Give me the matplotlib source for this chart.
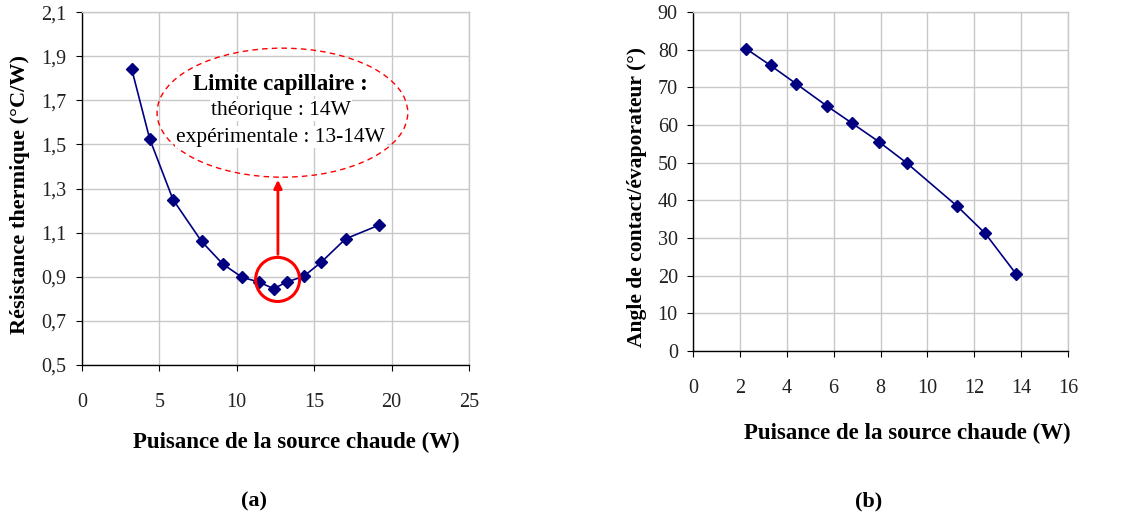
import matplotlib.pyplot as plt
from matplotlib.patches import Ellipse
from matplotlib.ticker import FuncFormatter

# (a) thermal resistance vs heat source power
power_a = [3.21, 4.37, 5.88, 7.73, 9.11, 10.36, 11.41, 12.38, 13.22, 14.32, 15.44, 17.03, 19.19]
resistance = [1.842, 1.526, 1.250, 1.060, 0.957, 0.897, 0.877, 0.846, 0.876, 0.902, 0.965, 1.072, 1.134]

# (b) contact angle vs heat source power
power_b = [2.25, 3.31, 4.41, 5.70, 6.78, 7.92, 9.12, 11.28, 12.47, 13.78]
angle = [80.3, 75.8, 70.9, 65.1, 60.5, 55.6, 49.9, 38.4, 31.2, 20.5]

xticks_a = [0, 5, 10, 15, 20, 25]
yticks_a = [0.5, 0.7, 0.9, 1.1, 1.3, 1.5, 1.7, 1.9, 2.1]
xticks_b = [0, 2, 4, 6, 8, 10, 12, 14, 16]
yticks_b = [0, 10, 20, 30, 40, 50, 60, 70, 80, 90]

plt.rcParams['font.family'] = ['Liberation Serif', 'DejaVu Serif']

navy = '#000080'
grid_col = '#c8c8c8'

fig = plt.figure(figsize=(11.28, 5.19), dpi=100)
ax1 = fig.add_axes([0.0727, 0.2967, 0.343, 0.680])
ax2 = fig.add_axes([0.6144, 0.3237, 0.3324, 0.6532])


def style(ax):
    ax.grid(True, color=grid_col, linewidth=1.0)
    ax.set_axisbelow(True)
    for s in ['top', 'right']:
        ax.spines[s].set_color(grid_col)
        ax.spines[s].set_linewidth(1.0)
    for s in ['left', 'bottom']:
        ax.spines[s].set_color('black')
        ax.spines[s].set_linewidth(1.0)
    ax.tick_params(axis='x', direction='out', length=4, pad=16, labelsize=14.5, colors='#222222')
    ax.tick_params(axis='y', direction='out', length=4, pad=7, labelsize=14.5, colors='#222222')
    ax.tick_params(axis='both', color='black')


comma = FuncFormatter(lambda v, p: f"{v:.1f}".replace('.', ','))

ax1.plot(power_a, resistance, color=navy, linewidth=1.2, marker='D', markersize=6)
ax1.set_xlim(0, 25)
ax1.set_ylim(0.5, 2.1)
ax1.set_xticks(xticks_a)
ax1.set_yticks(yticks_a)
ax1.yaxis.set_major_formatter(comma)
style(ax1)
ax1.set_xlabel("Puisance de la source chaude (W)", fontsize=16.5, fontweight='bold')
ax1.set_ylabel("Résistance thermique (°C/W)", fontsize=16, fontweight='bold')
ax1.xaxis.set_label_coords(0.555, -0.19)
ax1.yaxis.set_label_coords(-0.134, 0.482)

# annotation on chart (a)
ax1.add_patch(Ellipse((12.95, 1.644), 16.2, 0.585, fill=False, edgecolor='red',
                      linestyle=(0, (4, 3)), linewidth=1.0, zorder=3))
ax1.add_patch(Ellipse((12.64, 0.888), 2.84, 0.20, fill=False, edgecolor='red',
                      linewidth=2.2, zorder=4))
ax1.annotate("", xy=(12.66, 1.352), xytext=(12.66, 0.989),
             arrowprops=dict(arrowstyle='-|>', color='red', lw=2, mutation_scale=12), zorder=4)
box = dict(facecolor='white', edgecolor='none', pad=1)
ax1.text(12.85, 1.774, "Limite capillaire :", ha='center', va='center',
         fontsize=16.5, fontweight='bold', zorder=5, bbox=box)
ax1.text(12.85, 1.656, "théorique : 14W", ha='center', va='center',
         fontsize=15.5, zorder=5, bbox=box)
ax1.text(12.85, 1.533, "expérimentale : 13-14W", ha='center', va='center',
         fontsize=15.5, zorder=5, bbox=box)

ax2.plot(power_b, angle, color=navy, linewidth=1.2, marker='D', markersize=6)
ax2.set_xlim(0, 16)
ax2.set_ylim(0, 90)
ax2.set_xticks(xticks_b)
ax2.set_yticks(yticks_b)
style(ax2)
ax2.set_xlabel("Puisance de la source chaude (W)", fontsize=16.5, fontweight='bold')
ax2.set_ylabel("Angle de contact/évaporateur (°)", fontsize=15.5, fontweight='bold')
ax2.xaxis.set_label_coords(0.571, -0.212)
ax2.yaxis.set_label_coords(-0.123, 0.454)

fig.text(254 / 1128, 1 - 501 / 519, "(a)", ha='center', va='center', fontsize=16, fontweight='bold')
fig.text(869 / 1128, 1 - 501 / 519, "(b)", ha='center', va='center', fontsize=16, fontweight='bold')

fig.savefig("out.png", dpi=100)
